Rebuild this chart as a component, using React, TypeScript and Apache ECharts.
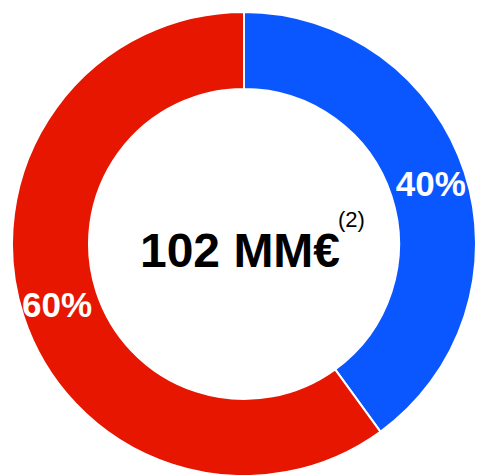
import React, { useEffect, useRef } from "react";
import * as echarts from "echarts";

const categories = ["A", "B"];
const values = [40, 60];
const colors = ["#0A57FF", "#E61600"];
const centerLabel = "102 MM€";
const noteLabel = "(2)";

export default function App() {
  const ref = useRef<HTMLDivElement>(null);
  useEffect(() => {
    document.body.style.margin = "0";
    const chart = echarts.init(ref.current!, null, { renderer: "svg" });
    chart.setOption({
      animation: false,
      series: [
        {
          type: "pie",
          center: [244, 244],
          radius: [155, 232],
          startAngle: 90,
          clockwise: true,
          silent: true,
          data: categories.map((c, i) => ({
            name: c,
            value: values[i],
            itemStyle: { color: colors[i] },
          })),
          itemStyle: { borderColor: "#ffffff", borderWidth: 2 },
          label: {
            show: true,
            position: "inside",
            formatter: "{d}%",
            color: "#ffffff",
            fontFamily: "Liberation Sans, Arial, sans-serif",
            fontWeight: "bold",
            fontSize: 35,
          },
          labelLine: { show: false },
        },
      ],
      graphic: [
        {
          type: "text",
          x: 240,
          y: 250,
          style: {
            text: centerLabel,
            fontFamily: "Liberation Sans, Arial, sans-serif",
            fontWeight: "bold",
            fontSize: 48,
            fill: "#000000",
            align: "center",
            verticalAlign: "middle",
          },
        },
        {
          type: "text",
          x: 338,
          y: 219,
          style: {
            text: noteLabel,
            fontFamily: "Liberation Sans, Arial, sans-serif",
            fontSize: 22,
            fill: "#000000",
            align: "left",
            verticalAlign: "middle",
          },
        },
      ],
    });
    return () => chart.dispose();
  }, []);
  return <div ref={ref} style={{ width: 477, height: 475 }} />;
}
